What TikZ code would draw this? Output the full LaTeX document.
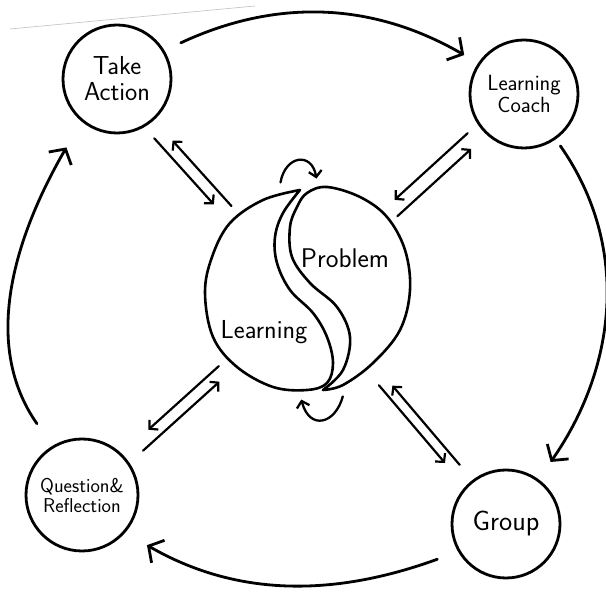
\documentclass[tikz,border=0pt]{standalone}
\usepackage{tikz}
\usetikzlibrary{calc,arrows.meta}
\begin{document}
\begin{tikzpicture}[x=1pt, y=1pt,
    stage/.style={draw, circle, line width=2.8pt, inner sep=0pt, minimum size=108pt, align=center},
    hand/.style={font=\sffamily\fontsize{#1}{#1}\selectfont},
    big/.style={line width=2.8pt, line cap=round, -{Straight Barb[length=11pt,width=26pt]}},
    pair/.style={line width=2.2pt, line cap=round, -{Straight Barb[length=6pt,width=13pt]}},
    turn/.style={line width=2.3pt, line cap=round, -{Straight Barb[length=6pt,width=13pt]}},
    piece/.style={line width=2.6pt, line join=round, line cap=round}]
      \useasboundingbox (0,0) rectangle (606,595);
      \draw[gray!45, line width=0.7pt] (10,566) -- (255,589);
      \node[stage, hand=26] (act) at (117,516) {Take\\Action};
      \node[stage, hand=22] (coach) at (524,501) {Learning\\Coach};
      \node[stage, hand=20, minimum size=112pt] (quest) at (82,100) {Question\&\\Reflection};
      \node[stage, hand=28] (group) at (506,71) {Group};
      \node[circle, inner sep=0pt, minimum size=202pt] (yin) at (308,304) {};
      \draw[piece] plot[smooth, tension=0.6] coordinates {(300,405) (263,395) (230,372) (212,338) (205,302) (213,258) (237,228) (273,208) (307,205) (327,212) (333,232) (327,258) (313,282) (290,305) (277,332) (275,358) (283,382) (300,405)};
      \draw[piece] plot[smooth, tension=0.6] coordinates {(323,205) (343,225) (350,258) (337,288) (310,312) (292,338) (290,368) (297,388) (307,402) (327,408) (360,398) (387,378) (405,345) (410,305) (400,265) (373,232) (343,210) (323,205)};
      \node[hand=27] (prob) at (345,337) {Problem};
      \node[hand=26] (learn) at (264,263) {Learning};
      \draw[big, shorten <=18pt, shorten >=16pt] (act.31) to[out=25, in=150] (coach.146);
      \draw[big, shorten <=8pt, shorten >=21pt] (coach.-55) to[out=-55, in=55] (group.54);
      \draw[big, shorten <=22pt, shorten >=25pt] (group.-150) to[out=-160, in=-30] (quest.-41.5);
      \draw[big, shorten <=27pt, shorten >=30pt] (quest.121) to[out=125, in=-120] (act.-130.6);
      \draw[pair] ($(act)!69pt!(yin)!12pt!-90:(yin)$) -- ($(act)!158pt!(yin)!12pt!-90:(yin)$);
      \draw[pair] ($(act)!171pt!(yin)$) -- ($(act)!83pt!(yin)$);
      \draw[pair] ($(coach)!68pt!(yin)!9pt!-90:(yin)$) -- ($(coach)!167pt!(yin)!9pt!-90:(yin)$);
      \draw[pair] ($(coach)!176pt!(yin)!5pt!90:(yin)$) -- ($(coach)!76pt!(yin)!5pt!90:(yin)$);
      \draw[pair] ($(quest)!188pt!(yin)!4pt!90:(yin)$) -- ($(quest)!93pt!(yin)!4pt!90:(yin)$);
      \draw[pair] ($(quest)!75pt!(yin)!8pt!-90:(yin)$) -- ($(quest)!178pt!(yin)!8pt!-90:(yin)$);
      \draw[pair] ($(group)!188pt!(yin)!7pt!90:(yin)$) -- ($(group)!86pt!(yin)!7pt!90:(yin)$);
      \draw[pair] ($(group)!75pt!(yin)!3pt!-90:(yin)$) -- ($(group)!179pt!(yin)!3pt!-90:(yin)$);
      \draw[turn, shorten <=12pt, shorten >=12pt] (yin.107) to[out=80, in=100, looseness=2.5] (yin.84);
      \draw[turn, shorten <=12pt, shorten >=8pt] (yin.-68) to[out=-105, in=-75, looseness=2.2] (yin.-95);
    \end{tikzpicture}
\end{document}
